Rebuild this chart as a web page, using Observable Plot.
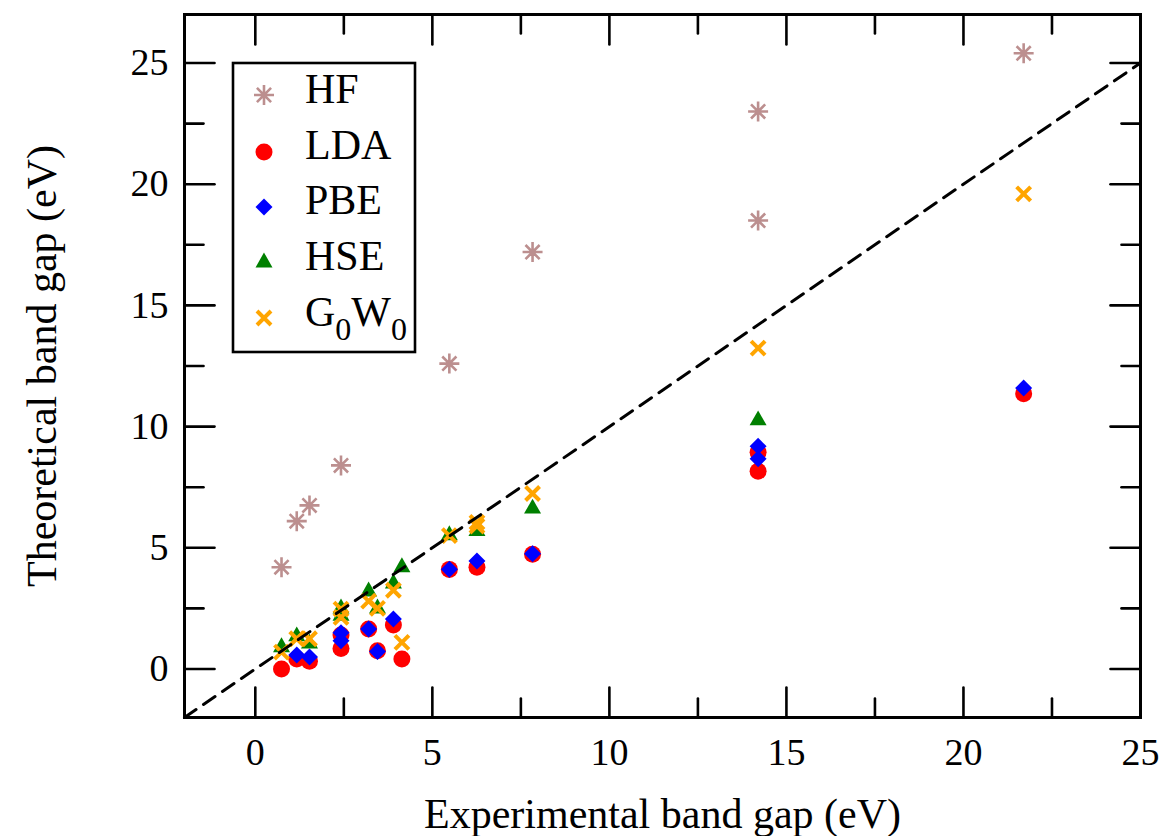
<!DOCTYPE html>
<html><head><meta charset="utf-8">
<script src="https://cdn.jsdelivr.net/npm/d3@7"></script>
<script src="https://cdn.jsdelivr.net/npm/@observablehq/plot@0.6"></script>
<style>
body{margin:0;background:#fff}
#chart{position:relative;width:1164px;height:836px}
#legend{position:absolute;left:0;top:0;pointer-events:none}
</style>
</head><body><div id="chart"></div>
<script>
// ---- tick values ----
const xMajor = [0, 5, 10, 15, 20, 25];
const xMinor = [2.5, 7.5, 12.5, 17.5, 22.5];
const yMajor = [0, 5, 10, 15, 20, 25];
const yMinor = [2.5, 7.5, 12.5, 17.5, 22.5];
const parity = [-2, 25];

// ---- series (experimental gap, theoretical gap) ----
const hfExp  = [0.74, 1.17, 1.53, 2.42, 5.48, 7.83, 14.2, 14.2, 21.7];
const hfTheo = [4.2, 6.1, 6.75, 8.4, 12.6, 17.2, 18.5, 23.0, 25.4];

const ldaExp  = [0.74, 1.17, 1.53, 2.42, 2.42, 3.2, 3.45, 3.9, 4.14, 5.48, 6.26, 7.83, 14.2, 14.2, 21.7];
const ldaTheo = [0.0, 0.41, 0.32, 0.85, 1.4, 1.65, 0.75, 1.82, 0.41, 4.11, 4.2, 4.73, 8.94, 8.16, 11.36];

const pbeExp  = [1.17, 1.53, 2.42, 2.42, 3.2, 3.45, 3.9, 5.48, 6.26, 7.83, 14.2, 14.2, 21.7];
const pbeTheo = [0.58, 0.5, 1.17, 1.5, 1.65, 0.72, 2.06, 4.12, 4.46, 4.75, 9.19, 8.67, 11.59];

const hseExp  = [0.74, 1.17, 1.53, 2.42, 2.42, 3.2, 3.45, 3.9, 4.14, 5.48, 6.26, 7.83, 14.2];
const hseTheo = [1.0, 1.45, 1.15, 2.6, 2.3, 3.3, 2.6, 3.63, 4.3, 5.62, 5.8, 6.72, 10.36];

const gwExp  = [0.74, 1.17, 1.53, 2.42, 2.42, 3.2, 3.45, 3.9, 4.14, 5.48, 6.26, 6.26, 7.83, 14.2, 21.7];
const gwTheo = [0.7, 1.25, 1.25, 2.47, 2.13, 2.8, 2.5, 3.25, 1.1, 5.5, 6.05, 5.9, 7.24, 13.24, 19.6];

const methods = ["HF", "LDA", "PBE", "HSE", "G0W0"];
const colors = {HF: "#bc8f8f", LDA: "#ff0000", PBE: "#0000ff", HSE: "#008000", G0W0: "#ffa500"};

// ---- custom symbols ----
const rad = s => Math.sqrt(s / Math.PI);
const asterisk8 = {draw(c, s){ const r = rad(s), d = r * Math.SQRT1_2;
  c.moveTo(-r,0); c.lineTo(r,0); c.moveTo(0,-r); c.lineTo(0,r);
  c.moveTo(-d,-d); c.lineTo(d,d); c.moveTo(-d,d); c.lineTo(d,-d);}};
const diamond = {draw(c, s){ const r = rad(s);
  c.moveTo(0,-r); c.lineTo(r,0); c.lineTo(0,r); c.lineTo(-r,0); c.closePath();}};
const triangle = {draw(c, s){ const r = rad(s);
  c.moveTo(0,-0.88*r); c.lineTo(r,0.88*r); c.lineTo(-r,0.88*r); c.closePath();}};
const times = {draw(c, s){ const r = rad(s);
  c.moveTo(-r,-r); c.lineTo(r,r); c.moveTo(r,-r); c.lineTo(-r,r);}};

const tickShape = {draw(c, l){ c.moveTo(0,0); c.lineTo(0,-l); }};
const tickMarks = (vals, ch, anchor, rot, len) =>
  Plot.vector(vals, {[ch]: d => d, frameAnchor: anchor, rotate: rot, length: len,
    anchor: "start", shape: tickShape, stroke: "black", strokeWidth: 2.6});

const plot = Plot.plot({
  width: 1164, height: 836,
  marginLeft: 184, marginRight: 24, marginTop: 14, marginBottom: 119,
  style: {fontFamily: "'Liberation Serif', 'Times New Roman', serif", background: "white", color: "black"},
  x: {domain: [-2, 25]},
  y: {domain: [-2, 27]},
  marks: [
    Plot.dot(hfTheo, {x: hfExp, y: hfTheo, symbol: asterisk8, r: 10, stroke: colors.HF, strokeWidth: 2.6, fill: "none"}),
    Plot.dot(ldaTheo, {x: ldaExp, y: ldaTheo, symbol: "circle", r: 8.5, fill: colors.LDA, stroke: "none"}),
    Plot.dot(pbeTheo, {x: pbeExp, y: pbeTheo, symbol: diamond, r: 8.5, fill: colors.PBE, stroke: "none"}),
    Plot.dot(hseTheo, {x: hseExp, y: hseTheo, symbol: triangle, r: 8.5, fill: colors.HSE, stroke: "none"}),
    Plot.dot(gwTheo, {x: gwExp, y: gwTheo, symbol: times, r: 7, stroke: colors.G0W0, strokeWidth: 4, fill: "none"}),
    Plot.line(parity, {x: d => d, y: d => d, stroke: "black", strokeWidth: 3, strokeDasharray: "14,9"}),
    Plot.frame({stroke: "black", strokeWidth: 3}),
    tickMarks(xMajor, "x", "bottom", 0, 30),
    tickMarks(xMinor, "x", "bottom", 0, 19),
    tickMarks(xMajor, "x", "top", 180, 30),
    tickMarks(xMinor, "x", "top", 180, 19),
    tickMarks(yMajor, "y", "left", 90, 30),
    tickMarks(yMinor, "y", "left", 90, 19),
    tickMarks(yMajor, "y", "right", 270, 30),
    tickMarks(yMinor, "y", "right", 270, 19),
    Plot.axisX({anchor: "bottom", ticks: xMajor, tickSize: 0, tickPadding: 21, fontSize: 38, label: null}),
    Plot.axisY({anchor: "left", ticks: yMajor, tickSize: 0, tickPadding: 16, fontSize: 38, label: null}),
    Plot.text(["Experimental band gap (eV)"], {text: d => d, frameAnchor: "bottom", dy: 97, fontSize: 42, lineAnchor: "middle"}),
    Plot.text(["Theoretical band gap (eV)"], {text: d => d, frameAnchor: "left", dx: -142, rotate: -90, fontSize: 42, lineAnchor: "middle", textAnchor: "middle"})
  ]
});
const chart = document.getElementById("chart");
chart.appendChild(plot);

// ---- legend overlay ----
const symOf = {HF: asterisk8, LDA: null, PBE: diamond, HSE: triangle, G0W0: times};
const rOf = {HF: 10, LDA: 8.5, PBE: 8.5, HSE: 8.5, G0W0: 7};
const svg = d3.select(chart).append("svg").attr("id", "legend").attr("width", 1164).attr("height", 836)
  .style("font-family", "'Liberation Serif', 'Times New Roman', serif");
const bx = 233, by = 63;
svg.append("rect").attr("x", bx).attr("y", by).attr("width", 182).attr("height", 289)
  .attr("fill", "white").attr("stroke", "black").attr("stroke-width", 2.6);
const symY = [32, 89, 144, 197, 255];
const txtY = [40, 95.6, 151.3, 207.3, 263.3];
methods.forEach((m, i) => {
  const g = svg.append("g").attr("transform", `translate(${bx + 31},${by + symY[i]})`);
  const r = rOf[m];
  if (m === "LDA") {
    g.append("circle").attr("r", r).attr("fill", colors[m]);
  } else {
    const p = d3.path(); symOf[m].draw(p, r * r * Math.PI);
    const stroked = (m === "HF" || m === "G0W0");
    g.append("path").attr("d", p.toString())
      .attr("fill", stroked ? "none" : colors[m])
      .attr("stroke", stroked ? colors[m] : "none")
      .attr("stroke-width", m === "HF" ? 2.6 : 4);
  }
  const t = svg.append("text").attr("x", bx + 72).attr("y", by + txtY[i]).attr("font-size", 42);
  if (m === "G0W0") {
    t.append("tspan").text("G");
    t.append("tspan").attr("font-size", 32).attr("dy", 14).text("0");
    t.append("tspan").attr("font-size", 42).attr("dy", -14).text("W");
    t.append("tspan").attr("font-size", 32).attr("dy", 14).text("0");
  } else {
    t.text(m);
  }
});
</script>
</body></html>
